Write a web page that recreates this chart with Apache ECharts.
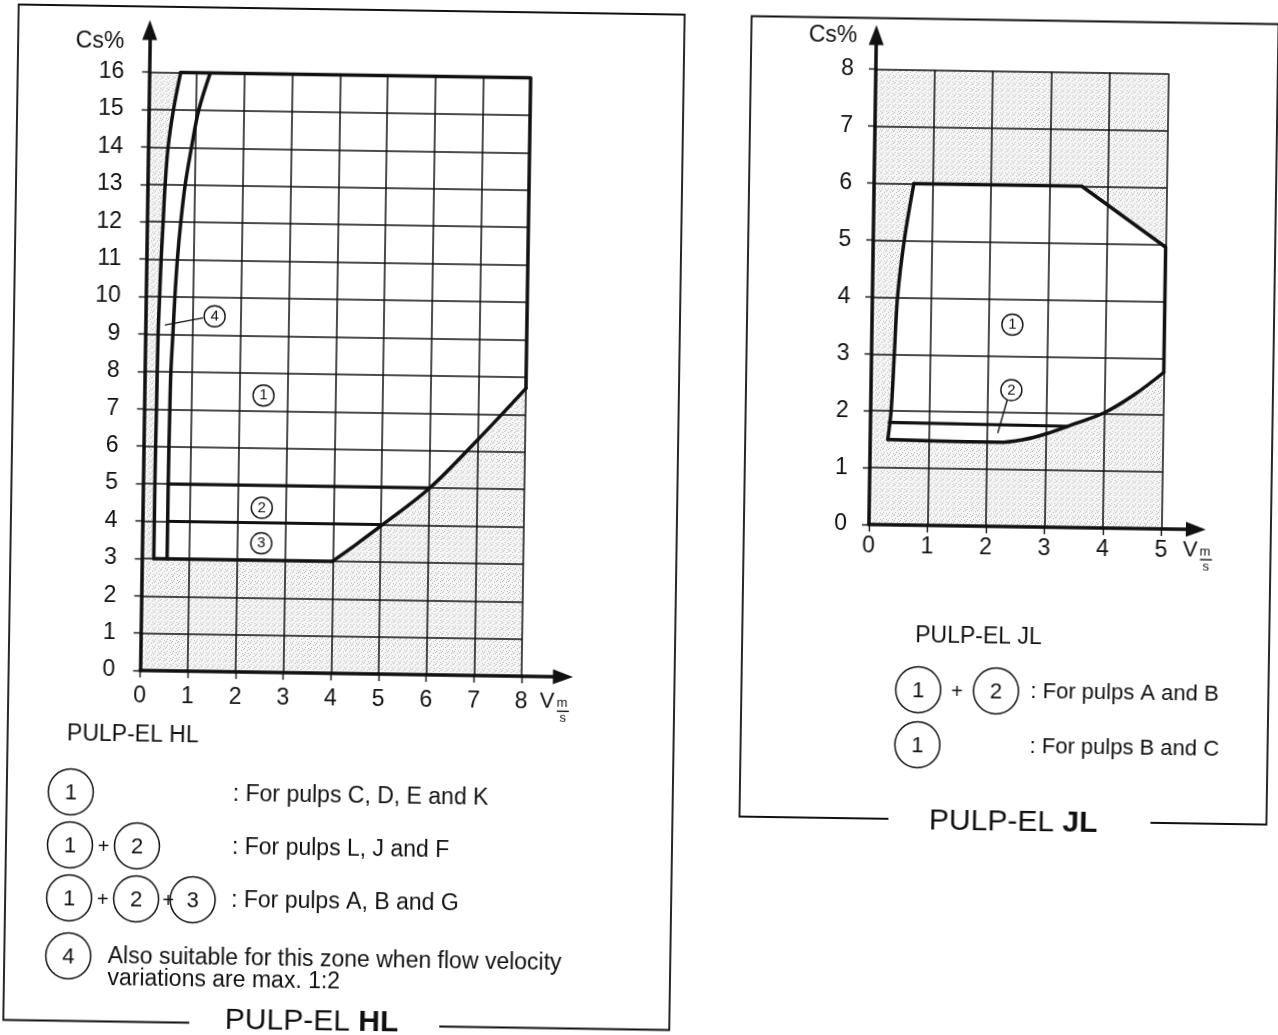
<!DOCTYPE html>
<html>
<head>
<meta charset="utf-8">
<title>PULP-EL HL / PULP-EL JL</title>
<script src="https://cdn.jsdelivr.net/npm/echarts@6.0.0/dist/echarts.min.js"></script>
<style>
  html, body { margin: 0; padding: 0; background: #fff; overflow: hidden; }
  /* the scanned sheet is turned slightly clockwise */
  #main { width: 1278px; height: 1080px; transform: rotate(0.87deg); transform-origin: 639px 517.5px; }
</style>
</head>
<body>
<div id="main"></div>
<script>
const INK = '#111';
const FONT = '"Liberation Sans", Arial, Helvetica, sans-serif';

// ---- PULP-EL HL (left) ----
const hlXTicks = [0, 1, 2, 3, 4, 5, 6, 7, 8];
const hlYTicks = [0, 1, 2, 3, 4, 5, 6, 7, 8, 9, 10, 11, 12, 13, 14, 15, 16];
const hlCurveA = [[0.25, 3], [0.25, 5], [0.26, 7], [0.27, 9], [0.29, 10], [0.31, 11], [0.34, 12], [0.37, 13], [0.42, 14], [0.52, 15], [0.66, 16]];
const hlCurveB = [[0.53, 3], [0.53, 5], [0.54, 7], [0.55, 8], [0.58, 9], [0.61, 10], [0.65, 11], [0.71, 12], [0.79, 13], [0.91, 14], [1.05, 15], [1.28, 16]];
const hlCurveC = [[4, 3], [4.5, 3.47], [5, 3.96], [6, 4.98], [7, 6.3], [8, 7.7]];
const hlTopRight = [[0.66, 16], [8, 16], [8, 7.7]];
const hlBase = [[0.25, 3], [4, 3]];
const hlLine4 = [[0.53, 4], [5.04, 4]];
const hlLine5 = [[0.54, 5], [6.02, 5]];
const hlLeader4 = [[0.42, 9.25], [1.2, 9.45]];
const hlZoneMarks = [[2.5, 7.4, '1'], [2.5, 4.4, '2'], [2.5, 3.45, '3'], [1.45, 9.5, '4']];
const hlLegend = [
  { zones: ['1'], text: ': For pulps C, D, E and K' },
  { zones: ['1', '2'], text: ': For pulps L, J and F' },
  { zones: ['1', '2', '3'], text: ': For pulps A, B and G' },
  { zones: ['4'], text: 'Also suitable for this zone when flow velocity\nvariations are max. 1:2' }
];

// ---- PULP-EL JL (right) ----
const jlXTicks = [0, 1, 2, 3, 4, 5];
const jlYTicks = [0, 1, 2, 3, 4, 5, 6, 7, 8];
const jlCurveLeft = [[0.3, 1.5], [0.35, 2], [0.39, 3], [0.43, 4], [0.53, 5], [0.68, 6]];
const jlTopRight = [[0.68, 6], [3.55, 6], [5, 4.95], [5, 2.75]];
const jlCurveBottom = [[0.3, 1.5], [2.2, 1.48], [2.6, 1.53], [3, 1.64], [3.5, 1.83], [4, 2.03], [4.5, 2.35], [5, 2.75]];
const jlLine2 = [[0.32, 1.8], [3.35, 1.78]];
const jlLeader2 = [[2.33, 2.22], [2.18, 1.65]];
const jlZoneMarks = [[2.4, 3.55, '1'], [2.4, 2.4, '2']];
const jlLegend = [
  { zones: ['1', '2'], text: ': For pulps A and B' },
  { zones: ['1'], text: ': For pulps B and C' }
];

// shaded (unsuitable) areas, built from the boundaries above
const hlX0 = hlXTicks[0], hlX1 = hlXTicks[hlXTicks.length - 1];
const hlY0 = hlYTicks[0], hlY1 = hlYTicks[hlYTicks.length - 1];
const jlX0 = jlXTicks[0], jlX1 = jlXTicks[jlXTicks.length - 1];
const jlY0 = jlYTicks[0], jlY1 = jlYTicks[jlYTicks.length - 1];
const hlShade = [[hlX0, hlY0], [hlX1, hlY0]].concat(hlCurveC.slice().reverse(), hlCurveA, [[hlX0, hlY1]]);
const jlTopY = jlCurveLeft[jlCurveLeft.length - 1][1];
const jlShadeLow = [[jlX0, jlY0], [jlX1, jlY0]].concat(jlCurveBottom.slice().reverse(), jlCurveLeft.slice(1), [[jlX0, jlTopY]]);
const jlShadeHigh = [[jlX0, jlTopY]].concat(jlTopRight.slice(0, 3), [[jlX1, jlY1], [jlX0, jlY1]]);

// dotted screen like the printed grey
const dots = document.createElement('canvas');
dots.width = 6; dots.height = 6;
const dctx = dots.getContext('2d');
dctx.fillStyle = 'rgba(0,0,0,0.035)';
dctx.fillRect(0, 0, 6, 6);
dctx.fillStyle = 'rgba(0,0,0,0.26)';
[[0, 0], [3, 2], [1, 4], [4, 5], [5, 1]].forEach(([x, y]) => dctx.fillRect(x, y, 1, 1));
const stipple = { image: dots, repeat: 'repeat' };

function shade(ax, polys) {
  return {
    type: 'custom', xAxisIndex: ax, yAxisIndex: ax, silent: true, z: 1, clip: false,
    data: polys.map((p, i) => i),
    renderItem: (params, api) => ({
      type: 'polygon',
      shape: { points: polys[params.dataIndex].map(p => api.coord(p)) },
      style: { fill: stipple }
    })
  };
}

function line(ax, data, width, smooth) {
  return {
    type: 'line', xAxisIndex: ax, yAxisIndex: ax, data, smooth: smooth || false,
    symbol: 'none', showSymbol: false, clip: false, silent: true, z: 5,
    lineStyle: { color: INK, width, cap: 'round', join: 'round' }
  };
}

function marks(ax, data) {
  return {
    type: 'scatter', xAxisIndex: ax, yAxisIndex: ax, data, symbol: 'circle', symbolSize: 21,
    silent: true, z: 6,
    itemStyle: { color: '#fff', borderColor: INK, borderWidth: 1.4, opacity: 1 },
    label: { show: true, position: 'inside', formatter: p => p.value[2], fontSize: 15, color: INK, fontFamily: FONT }
  };
}

function mainAxis(grid, ticks, margin) {
  return {
    type: 'value', gridIndex: grid, min: ticks[0], max: ticks[ticks.length - 1], interval: 1,
    axisLine: { show: false },
    axisTick: { show: true, length: 7, lineStyle: { color: INK, width: 1.4 } },
    axisLabel: { fontSize: 23, color: INK, fontFamily: FONT, margin, showMinLabel: true, showMaxLabel: true },
    splitLine: { show: true, lineStyle: { color: INK, width: 1.5 } }
  };
}

function arrowAxis(grid) {
  return {
    type: 'value', gridIndex: grid, min: 0, max: 1,
    axisLine: { show: true, symbol: ['none', 'triangle'], symbolSize: [15, 20], lineStyle: { color: INK, width: 3.5 } },
    axisTick: { show: false }, axisLabel: { show: false }, splitLine: { show: false }
  };
}

// ---- text, legends and frames ----
const graphics = [];
function txt(x, y, text, size, align, weight) {
  graphics.push({
    type: 'text', x, y, z: 10,
    style: {
      text, fill: INK, font: (weight || 'normal') + ' ' + size + 'px ' + FONT,
      textAlign: align || 'left', align: align || 'left', textVerticalAlign: 'middle', verticalAlign: 'middle'
    }
  });
}
function zoneCircle(cx, cy, label) {
  graphics.push({ type: 'ellipse', z: 9, shape: { cx, cy, rx: 22.5, ry: 23 }, style: { fill: '#fff', stroke: INK, lineWidth: 1.5 } });
  txt(cx, cy + 1, label, 22, 'center');
}
function rule(points, w) {
  graphics.push({ type: 'polyline', z: 8, shape: { points }, style: { stroke: INK, lineWidth: w || 1.8, fill: null } });
}
function legend(rows, rowY, colX, plusX, textX, wrapX, size) {
  rows.forEach((r, i) => {
    r.zones.forEach((z, j) => {
      zoneCircle(colX[j], rowY[i], z);
      if (j > 0) txt(plusX[j - 1], rowY[i] + 2, '+', 20, 'center');
    });
    const lines = r.text.split('\n');
    const x = lines.length > 1 ? wrapX : textX;
    lines.forEach((t, k) => txt(x, rowY[i] + k * 22.5, t, size));
  });
}
function velocity(x, y) {
  txt(x, y, 'V', 22, 'center');
  txt(x + 15, y + 1, 'm', 13, 'center');
  rule([[x + 10, y + 9], [x + 22, y + 9]], 1.4);
  txt(x + 16, y + 16.5, 's', 13, 'center');
}

// HL sheet
txt(92.8, 49.2, 'Cs%', 23, 'center');
velocity(549.8, 703.4);
txt(70.3, 742.7, 'PULP-EL HL', 23);
legend(hlLegend, [800.5, 853.5, 906.5, 964.5], [75, 142, 198.5], [108.5, 174], 237, 114.5, 23);
rule([[197, 1029.5], [11, 1029.5], [11, 14], [677, 14], [677, 1029.5], [447, 1029.5]]);
txt(366, 1027, 'PULP-EL ', 30, 'right');
txt(366, 1027, 'HL', 30, 'left', 'bold');

// JL sheet
txt(825.7, 33, 'Cs%', 23, 'center');
velocity(1190.5, 542.1);
txt(917, 632, 'PULP-EL JL', 23);
legend(jlLegend, [685.5, 740.5], [920.8, 998.6], [959.7], 1033, 1033, 22);
rule([[893, 815], [744, 815], [744, 14.5], [1290, 14.5]]);
rule([[1271, 14.5], [1271, 815], [1155, 815]]);
txt(1067, 816.5, 'PULP-EL ', 30, 'right');
txt(1067, 816.5, 'JL', 30, 'left', 'bold');

const option = {
  animation: false,
  backgroundColor: '#fff',
  grid: [
    { left: 142.5, top: 79.6, width: 381.5, height: 598.5, outerBoundsMode: 'none' },
    { left: 142.5, top: 37.5, width: 422.9, height: 640.6, outerBoundsMode: 'none' },
    { left: 869, top: 65.6, width: 292.5, height: 455.5, outerBoundsMode: 'none' },
    { left: 869, top: 31.4, width: 327, height: 489.7, outerBoundsMode: 'none' }
  ],
  xAxis: [mainAxis(0, hlXTicks, 14), arrowAxis(1), mainAxis(2, jlXTicks, 10), arrowAxis(3)],
  yAxis: [mainAxis(0, hlYTicks, 25), arrowAxis(1), mainAxis(2, jlYTicks, 22), arrowAxis(3)],
  graphic: { elements: graphics },
  series: [
    shade(0, [hlShade]),
    line(0, hlCurveA, 3.5, 0.35),
    line(0, hlCurveB, 3.5, 0.35),
    line(0, hlCurveC, 3.5, 0.35),
    line(0, hlTopRight, 3.5),
    line(0, hlBase, 3.5),
    line(0, hlLine4, 3.2),
    line(0, hlLine5, 3.2),
    line(0, hlLeader4, 1.4),
    marks(0, hlZoneMarks),

    shade(2, [jlShadeLow, jlShadeHigh]),
    line(2, jlCurveLeft, 3.5, 0.35),
    line(2, jlTopRight, 3.5),
    line(2, jlCurveBottom, 3.5, 0.35),
    line(2, jlLine2, 3.2),
    line(2, jlLeader2, 1.4),
    marks(2, jlZoneMarks)
  ]
};

const chart = echarts.init(document.getElementById('main'), null, { renderer: 'canvas' });
chart.setOption(option);
</script>
</body>
</html>
